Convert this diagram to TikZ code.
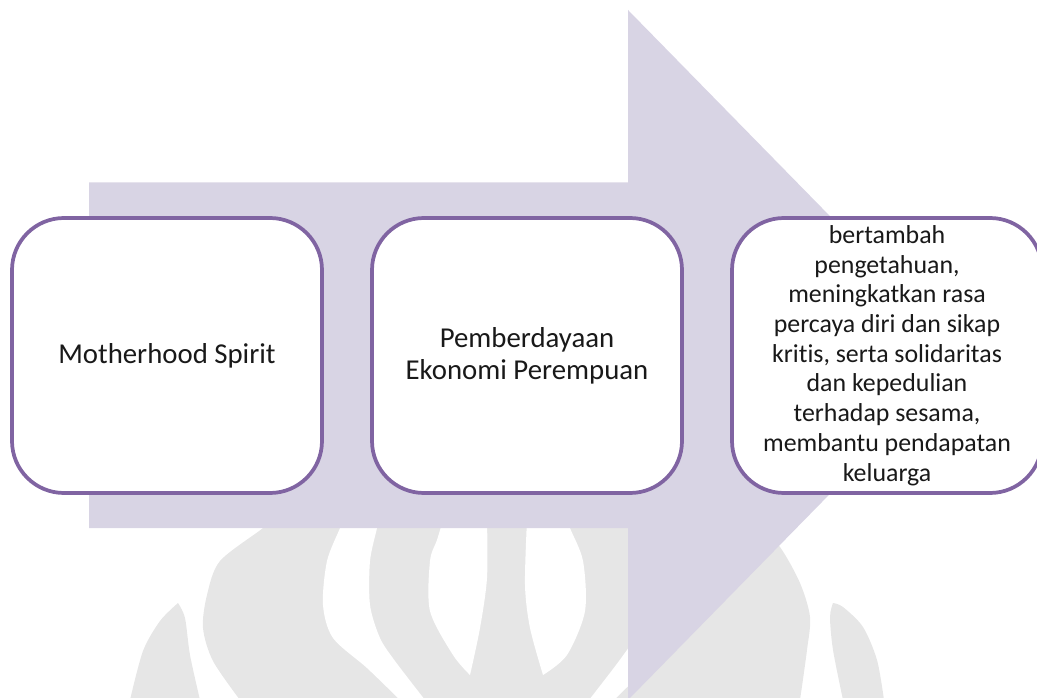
\documentclass[tikz,border=0pt]{standalone}
\usepackage{fontspec}
\setmainfont{Carlito}[Ligatures=NoCommon]
\definecolor{arrowfill}{RGB}{216,212,228}
\definecolor{boxline}{RGB}{128,100,162}
\definecolor{wmgray}{RGB}{230,230,230}
\definecolor{txt}{RGB}{25,25,25}
\begin{document}
\begin{tikzpicture}[x=0.75pt,y=-0.75pt,
  stepbox/.style={draw=boxline, line width=2.8pt, fill=white, rounded corners=39pt,
    minimum width=232.5pt, minimum height=206.25pt, align=center, inner sep=0pt, text=txt},
  bigfont/.style={font=\fontsize{21.6}{23.8}\selectfont},
  smallfont/.style={font=\fontsize{19.4}{22.3}\selectfont},
  wm/.style={fill=wmgray}, hole/.style={fill=white}]
\useasboundingbox (0,0) rectangle (1037,698);
\clip (0,0) rectangle (1037,698);
% watermark
\fill[wm] plot[smooth] coordinates {(268,520) (263,528) (220,561) (207,595) (203,628) (213,661) (240,700)}
  -- (800,700) -- plot[smooth] coordinates {(800,700) (807,650) (810,617) (800,583) (780,547) (755,520)} -- cycle;
\fill[wm] plot[smooth] coordinates {(130,700) (143,651) (160,621) (178,603)}
  -- plot[smooth] coordinates {(178,603) (185,618) (190,655) (200,700)} -- cycle;
\fill[wm] plot[smooth] coordinates {(843,700) (833,650) (830,617) (833,603)}
  -- plot[smooth] coordinates {(833,603) (843,607) (863,627) (877,660) (884,700)} -- cycle;
\fill[hole] plot[smooth] coordinates {(342,520) (340,528) (327,561) (323,605) (333,638) (367,668) (400,700)}
  -- plot[smooth] coordinates {(425,700) (395,661) (380,638) (370,605) (370,561) (377,528) (378,520)} -- cycle;
\fill[hole] plot[smooth] coordinates {(443,520) (437,540) (430,561) (430,611) (453,655) (470,675)}
  -- plot[smooth] coordinates {(470,675) (480,628) (487,578) (487,520)} -- cycle;
\fill[hole] plot[smooth] coordinates {(527,520) (525,585) (530,628) (543,675)}
  -- plot[smooth] coordinates {(543,675) (567,655) (585,611) (583,561) (570,528) (569,520)} -- cycle;
\fill[hole] plot[smooth] coordinates {(672,520) (674,528) (687,561) (691,605) (681,638) (647,668) (614,700)}
  -- plot[smooth] coordinates {(589,700) (619,661) (634,638) (644,605) (644,561) (637,528) (636,520)} -- cycle;
% big arrow
\fill[arrowfill] (89,182.5) -- (628,182.5) -- (628,10) -- (966,355) -- (628,700) -- (628,528) -- (89,528) -- cycle;
% boxes
\node[stepbox, bigfont] (m) at (167,355.5) {Motherhood Spirit};
\node[stepbox, bigfont] (p) at (527,355.5) {Pemberdayaan\\Ekonomi Perempuan};
\node[stepbox, smallfont] (h) at (887,355.5) {bertambah\\pengetahuan,\\meningkatkan rasa\\percaya diri dan sikap\\kritis, serta solidaritas\\dan kepedulian\\terhadap sesama,\\membantu pendapatan\\keluarga};
\end{tikzpicture}
\end{document}
